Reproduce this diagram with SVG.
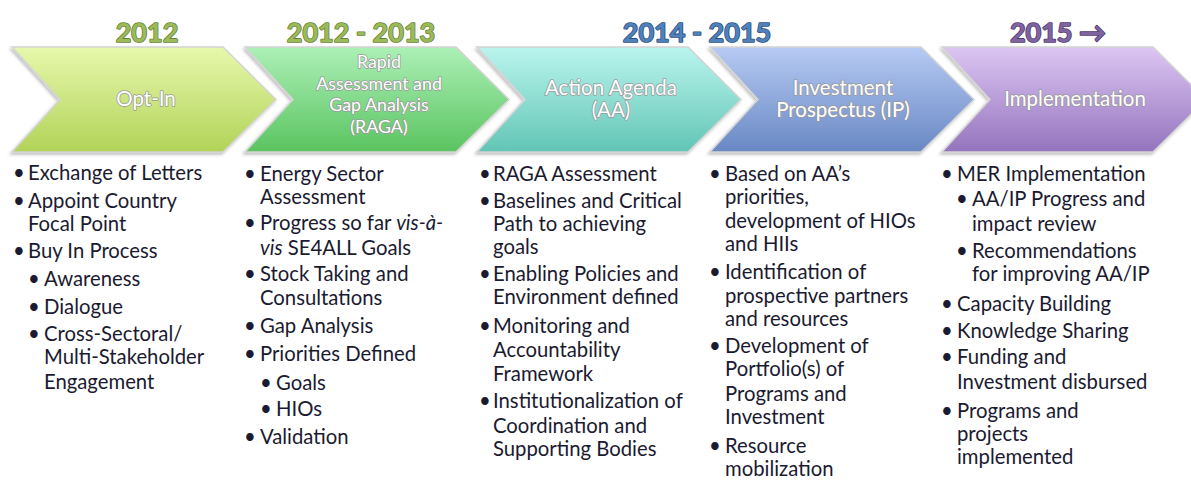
<svg xmlns="http://www.w3.org/2000/svg" width="1191" height="495" viewBox="0 0 1191 495">
<style>
.yr{font-family:Lato,"Liberation Sans",sans-serif;font-weight:bold;font-size:27px;text-anchor:middle;paint-order:stroke;stroke-width:1.6px;stroke-linejoin:round}
.lbl{font-family:Lato,"Liberation Sans",sans-serif;font-size:20.5px;fill:#ffffff;text-anchor:middle;paint-order:stroke;stroke:#9a9a9a;stroke-width:1.6px;stroke-linejoin:round}
.sm{font-size:17.8px}
.t{font-family:Lato,"Liberation Sans",sans-serif;font-size:20.3px;fill:#1a1a30}
.b{font-family:Lato,"Liberation Sans",sans-serif;font-size:20.3px;fill:#1a1a30;text-anchor:middle}
.chev{stroke:#d4d4d4;stroke-width:1.5;filter:url(#sh)}
</style>
<defs>
<filter id="sh" x="-5%" y="-10%" width="110%" height="125%">
<feDropShadow dx="-1.5" dy="2" stdDeviation="1.5" flood-color="#000" flood-opacity="0.25"/>
</filter>
<linearGradient id="g1" x1="0" y1="0" x2="0" y2="1"><stop offset="0" stop-color="#e6f8ac"/><stop offset="1" stop-color="#b2d358"/></linearGradient>
<linearGradient id="g2" x1="0" y1="0" x2="0" y2="1"><stop offset="0" stop-color="#acf0b6"/><stop offset="1" stop-color="#5ac460"/></linearGradient>
<linearGradient id="g3" x1="0" y1="0" x2="0" y2="1"><stop offset="0" stop-color="#baf5ee"/><stop offset="1" stop-color="#62c5b5"/></linearGradient>
<linearGradient id="g4" x1="0" y1="0" x2="0" y2="1"><stop offset="0" stop-color="#b6caf3"/><stop offset="1" stop-color="#6888c4"/></linearGradient>
<linearGradient id="g5" x1="0" y1="0" x2="0" y2="1"><stop offset="0" stop-color="#dcc6f3"/><stop offset="1" stop-color="#9474bd"/></linearGradient>
</defs>
<rect width="1191" height="495" fill="#ffffff"/>

<g id="years">
<text class="yr" x="147" y="42" fill="#9bbb59" stroke="#6b7f3a">2012</text>
<text class="yr" x="361" y="42" fill="#9bbb59" stroke="#6b7f3a">2012 - 2013</text>
<text class="yr" x="697" y="42" fill="#4f81bd" stroke="#2e4f7a">2014 - 2015</text>
<text class="yr" x="1058" y="42" fill="#8064a2" stroke="#4e3a6a">2015 →</text>
</g>

<g id="connectors"></g>

<g id="optin">
<polygon class="chev" fill="url(#g1)" points="12,47 223,47 276,99.5 223,152 12,152 60,99.5"/>
<text class="lbl" x="146" y="106">Opt-In</text>
</g>
<g id="raga">
<polygon class="chev" fill="url(#g2)" points="245,47 456,47 509,99.5 456,152 245,152 293,99.5"/>
<text class="lbl sm" x="379" y="68">Rapid</text>
<text class="lbl sm" x="379" y="89.5">Assessment and</text>
<text class="lbl sm" x="379" y="111">Gap Analysis</text>
<text class="lbl sm" x="379" y="132.5">(RAGA)</text>
</g>
<g id="aa">
<polygon class="chev" fill="url(#g3)" points="477,47 688,47 741,99.5 688,152 477,152 525,99.5"/>
<text class="lbl" x="611" y="95">Action Agenda</text>
<text class="lbl" x="611" y="117">(AA)</text>
</g>
<g id="ip">
<polygon class="chev" fill="url(#g4)" points="710,47 921,47 974,99.5 921,152 710,152 758,99.5"/>
<text class="lbl" x="843" y="95">Investment</text>
<text class="lbl" x="843" y="117">Prospectus (IP)</text>
</g>
<g id="impl">
<polygon class="chev" fill="url(#g5)" points="942,47 1153,47 1206,99.5 1153,152 942,152 990,99.5"/>
<text class="lbl" x="1075" y="106">Implementation</text>
</g>

<g id="list-optin">
<text class="b" x="19" y="180">•</text><text class="t" x="28" y="180">Exchange of Letters</text>
<text class="b" x="19" y="208">•</text><text class="t" x="28" y="208">Appoint Country</text>
<text class="t" x="28" y="231">Focal Point</text>
<text class="b" x="19" y="258">•</text><text class="t" x="28" y="258">Buy In Process</text>
<text class="b" x="34" y="286">•</text><text class="t" x="44" y="286">Awareness</text>
<text class="b" x="34" y="314">•</text><text class="t" x="44" y="314">Dialogue</text>
<text class="b" x="34" y="341">•</text><text class="t" x="44" y="341">Cross-Sectoral/</text>
<text class="t" x="44" y="364">Multi-Stakeholder</text>
<text class="t" x="44" y="389">Engagement</text>
</g>

<g id="list-raga">
<text class="b" x="250" y="181">•</text><text class="t" x="260" y="181">Energy Sector</text>
<text class="t" x="260" y="204">Assessment</text>
<text class="b" x="250" y="230">•</text><text class="t" x="260" y="230">Progress so far <tspan font-style="italic">vis-à-</tspan></text>
<text class="t" x="260" y="255"><tspan font-style="italic">vis</tspan> SE4ALL Goals</text>
<text class="b" x="250" y="281">•</text><text class="t" x="260" y="281">Stock Taking and</text>
<text class="t" x="260" y="305">Consultations</text>
<text class="b" x="250" y="333">•</text><text class="t" x="260" y="333">Gap Analysis</text>
<text class="b" x="250" y="361">•</text><text class="t" x="260" y="361">Priorities Defined</text>
<text class="b" x="266" y="390">•</text><text class="t" x="276" y="390">Goals</text>
<text class="b" x="266" y="416">•</text><text class="t" x="276" y="416">HIOs</text>
<text class="b" x="250" y="444">•</text><text class="t" x="260" y="444">Validation</text>
</g>

<g id="list-aa">
<text class="b" x="485" y="181">•</text><text class="t" x="493" y="181">RAGA Assessment</text>
<text class="b" x="485" y="208">•</text><text class="t" x="493" y="208">Baselines and Critical</text>
<text class="t" x="493" y="231">Path to achieving</text>
<text class="t" x="493" y="254">goals</text>
<text class="b" x="485" y="281">•</text><text class="t" x="493" y="281">Enabling Policies and</text>
<text class="t" x="493" y="304">Environment defined</text>
<text class="b" x="485" y="333">•</text><text class="t" x="493" y="333">Monitoring and</text>
<text class="t" x="493" y="357">Accountability</text>
<text class="t" x="493" y="381">Framework</text>
<text class="b" x="485" y="408">•</text><text class="t" x="493" y="408">Institutionalization of</text>
<text class="t" x="493" y="433">Coordination and</text>
<text class="t" x="493" y="456">Supporting Bodies</text>
</g>

<g id="list-ip">
<text class="b" x="715" y="181">•</text><text class="t" x="725" y="181">Based on AA’s</text>
<text class="t" x="725" y="204">priorities,</text>
<text class="t" x="725" y="228">development of HIOs</text>
<text class="t" x="725" y="251">and HIIs</text>
<text class="b" x="715" y="279">•</text><text class="t" x="725" y="279">Identification of</text>
<text class="t" x="725" y="303">prospective partners</text>
<text class="t" x="725" y="326">and resources</text>
<text class="b" x="715" y="353">•</text><text class="t" x="725" y="353">Development of</text>
<text class="t" x="725" y="376">Portfolio(s) of</text>
<text class="t" x="725" y="401">Programs and</text>
<text class="t" x="725" y="424">Investment</text>
<text class="b" x="715" y="453">•</text><text class="t" x="725" y="453">Resource</text>
<text class="t" x="725" y="476">mobilization</text>
</g>

<g id="list-impl">
<text class="b" x="947" y="181">•</text><text class="t" x="957" y="181">MER Implementation</text>
<text class="b" x="962" y="206">•</text><text class="t" x="972" y="206">AA/IP Progress and</text>
<text class="t" x="972" y="231">impact review</text>
<text class="b" x="962" y="258">•</text><text class="t" x="972" y="258">Recommendations</text>
<text class="t" x="972" y="281">for improving AA/IP</text>
<text class="b" x="947" y="311">•</text><text class="t" x="957" y="311">Capacity Building</text>
<text class="b" x="947" y="338">•</text><text class="t" x="957" y="338">Knowledge Sharing</text>
<text class="b" x="947" y="364">•</text><text class="t" x="957" y="364">Funding and</text>
<text class="t" x="957" y="389">Investment disbursed</text>
<text class="b" x="947" y="418">•</text><text class="t" x="957" y="418">Programs and</text>
<text class="t" x="957" y="441">projects</text>
<text class="t" x="957" y="464">implemented</text>
</g>
</svg>
